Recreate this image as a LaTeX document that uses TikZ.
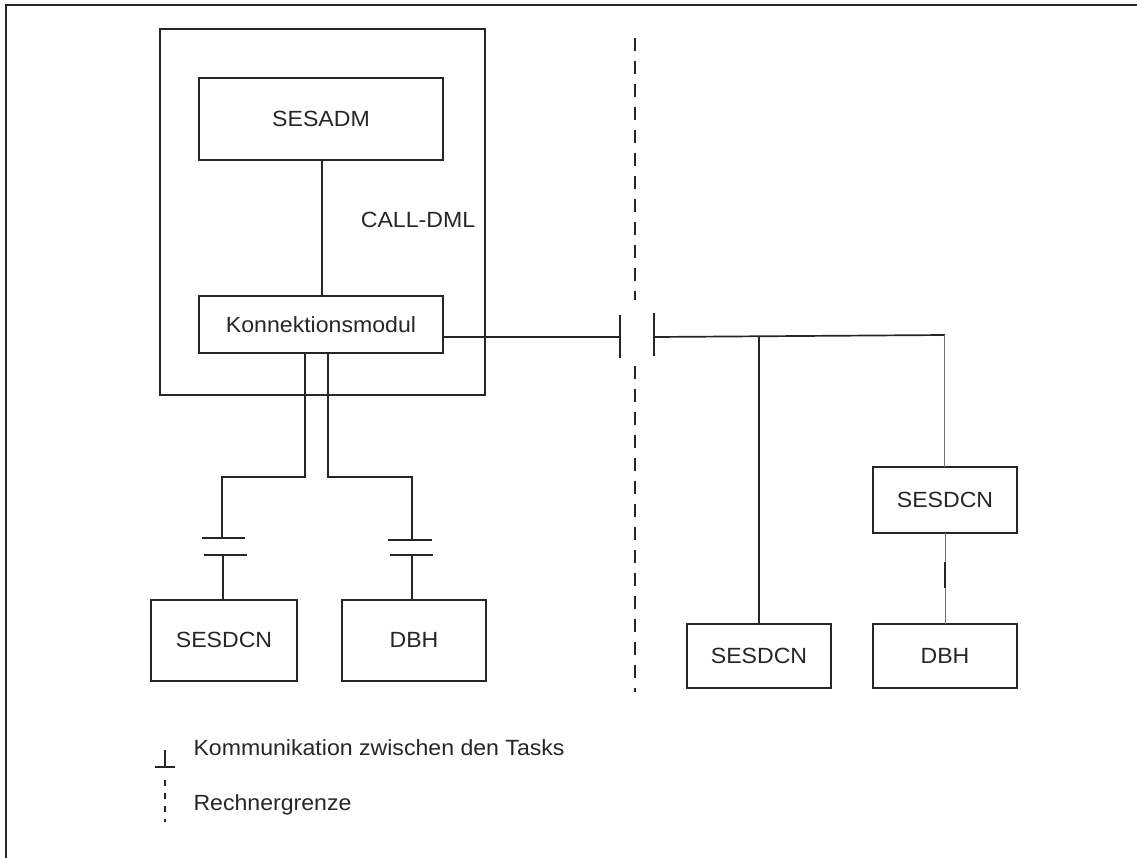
\documentclass[tikz,border=0pt]{standalone}
\usepackage{fontspec}
\setmainfont[FakeStretch=1.05]{Liberation Sans}
\begin{document}
\begin{tikzpicture}[x=1pt,y=-1pt,
  ln/.style={line width=1.7pt,black!85},
  thin/.style={line width=0.9pt,black!55},
  boxs/.style={ln,draw,fill=none},
  lbl/.style={font=\fontsize{22}{25}\selectfont,text=black!85},
  rgrenze/.style={line width=1.8pt,black!85,dash pattern=on 13pt off 10pt}]
\useasboundingbox (0,0) rectangle (1137,857);
% outer frame
\draw[ln] (6,870) -- (6,5) -- (1150,5);
% task box
\draw[boxs] (160,29) rectangle (485,395);
% boxes
\draw[boxs] (199,78) rectangle (443,160);
\node[lbl] (sesadm) at (321,119) {SESADM};
\coordinate (sesadmB) at (322,160);
\draw[boxs] (199,296) rectangle (443,353);
\node[lbl] (konn) at (321,325) {Konnektionsmodul};
\coordinate (konnT) at (322,296);
\node[lbl] (calldml) at (418,220) {CALL-DML};
\draw[ln] (sesadmB) -- (konnT);
% left lower boxes
\draw[boxs] (151,600) rectangle (297,681);
\node[lbl] (sesdcnA) at (224,640) {SESDCN};
\draw[boxs] (342,600) rectangle (486,681);
\node[lbl] (dbhA) at (414,640) {DBH};
% branches from Konnektionsmodul
\coordinate (kb1) at (305,353);
\coordinate (kb2) at (328,353);
\coordinate (pA1) at (222,538);
\coordinate (pA2) at (223,555);
\coordinate (pB1) at (412,540);
\coordinate (pB2) at (412,555);
\draw[ln] (kb1) -- (305,477) -- (222,477) -- (pA1);
\draw[ln] (kb2) -- (328,477) -- (412,477) -- (pB1);
\draw[ln] (202,538) -- (245,538);
\draw[ln] (204,555) -- (247,555);
\draw[ln] (388,540) -- (432,540);
\draw[ln] (390,555) -- (433,555);
\draw[ln] (pA2) -- (223,600);
\draw[ln] (pB2) -- (412,600);
% connection across machine boundary
\coordinate (kR) at (443,337);
\coordinate (gL) at (620,337);
\coordinate (gR) at (654,337);
\draw[ln] (kR) -- (gL);
\draw[ln] (620,315) -- (620,358);
\draw[ln] (654,313) -- (654,356);
\coordinate (jn) at (759,336);
\coordinate (rEnd) at (944,335);
\draw[ln] (gR) -- (rEnd);
% right boxes
\draw[boxs] (687,624) rectangle (831,688);
\node[lbl] (sesdcnB) at (759,656) {SESDCN};
\draw[ln] (jn) -- (759,624);
\draw[boxs] (873,467) rectangle (1017,533);
\node[lbl] (sesdcnC) at (945,500) {SESDCN};
\draw[boxs] (873,624) rectangle (1017,688);
\node[lbl] (dbhB) at (945,656) {DBH};
\fill[black!85] (rEnd) circle (1.4pt);
\draw[thin] (rEnd) -- (944,467);
\draw[thin] (945,533) -- (945,624);
\draw[ln] (945,562) -- (945,588);
% machine boundary
\draw[rgrenze] (635,38) -- (635,300);
\draw[rgrenze] (635,366) -- (635,692);
% legend
\draw[ln] (165,750) -- (165,767);
\draw[ln] (155,767) -- (175,767);
\draw[line width=1.6pt,black!85,dash pattern=on 6pt off 7pt] (165,780) -- (165,822);
\node[lbl,anchor=west] (leg1) at (190,748) {Kommunikation zwischen den Tasks};
\node[lbl,anchor=west] (leg2) at (190,805) {Rechnergrenze};
\end{tikzpicture}
\end{document}
